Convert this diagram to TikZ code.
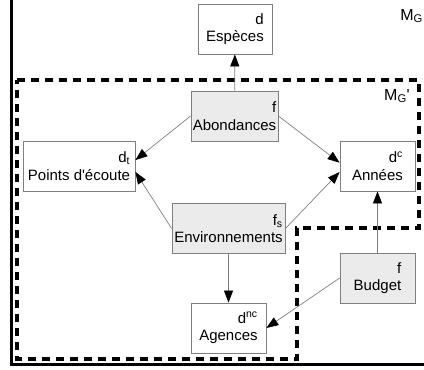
\documentclass[tikz,border=0pt]{standalone}
\usepackage{fontspec}
\setmainfont{Liberation Sans}
\usepackage{tikz}
\usetikzlibrary{arrows.meta, positioning, calc}
\definecolor{Box_Gray}{HTML}{EBEBEB}
\definecolor{Edge_Gray}{HTML}{7F7F7F}
\tikzset{
  dimbox/.style={draw=Edge_Gray, line width=0.8pt, fill=white, align=right,
    inner sep=0pt, minimum height=50pt, font=\fontsize{15}{17.5}\selectfont},
  factbox/.style={dimbox, fill=Box_Gray},
  link/.style={draw=Edge_Gray, line width=0.7pt, -{Triangle[length=12pt,width=9pt,black]}},
  modeltag/.style={anchor=north east, inner sep=0pt, font=\fontsize{16}{18}\selectfont},
}

\begin{document}
\begin{tikzpicture}[x=1pt, y=-1pt]
\useasboundingbox (0,0) rectangle (424,370);
% --- Outer frame: M_G ---
\begin{scope}
\clip (0,0) rectangle (424,370);
\draw[line width=3.2pt] (11.5,-10) rectangle (440,364.5);
\end{scope}
\node[modeltag] (mg) at (423,9) {M\textsubscript{G}};
% --- Inner dashed region: M_G' ---
\draw[line width=3.6pt, dash pattern=on 8pt off 6pt]
  (17,80) -- (419,80) -- (419,228) -- (297,228) -- (297,359) -- (17,359) -- cycle;
\node[modeltag] (mgp) at (410,89) {M\textsubscript{G}\textquotesingle};
% --- Dimensions ---
\node[dimbox, minimum width=74pt] (especes) at (235,29) {d\\Espèces};
\node[dimbox, minimum width=112pt] (points) at (79,166) {d\textsubscript{t}\\Points d\textquotesingle écoute};
\node[dimbox, minimum width=75pt] (annees) at (377.5,166) {d\textsuperscript{c}\\Années};
\node[dimbox, minimum width=75pt] (agences) at (228.5,328) {d\textsuperscript{nc}\\Agences};
% --- Facts ---
\node[factbox, minimum width=87pt] (abond) at (234.5,116) {f\\Abondances};
\node[factbox, minimum width=113pt] (envir) at (228.5,228.5) {f\textsubscript{s}\\Environnements};
\node[factbox, minimum width=75pt] (budget) at (377.5,278) {f\\Budget};
% --- Links ---
\draw[link] (abond) -- (especes);
\draw[link] (abond.west) -- (points.6);
\draw[link] (abond.east) -- (annees.175);
\draw[link] (envir.west) -- (points.-6);
\draw[link] (envir.east) -- (annees.189);
\draw[link] (envir) -- (agences);
\draw[link] (budget) -- (annees);
\draw[link] (budget.west) -- (agences.east);
\end{tikzpicture}
\end{document}
